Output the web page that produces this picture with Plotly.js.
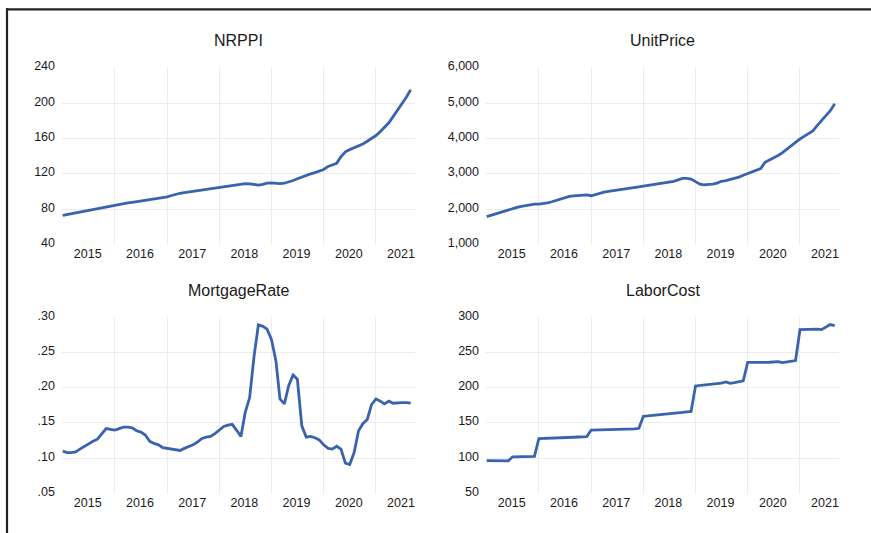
<!DOCTYPE html>
<html>
<head>
<meta charset="utf-8">
<script src="https://cdn.plot.ly/plotly-3.0.1.min.js"></script>
<style>
  html, body { margin: 0; padding: 0; background: #ffffff; }
  #chart { width: 871px; height: 533px; }
</style>
</head>
<body>
<div id="chart"></div>
<script>
// Monthly observations, January 2015 through September 2021
const startYear = 2015;
const nObs = 81;

const nrppi = [
  73.0, 74.0, 75.0, 76.0, 77.0, 77.9, 78.8, 79.6, 80.4, 81.2, 82.3, 83.4,
  84.5, 85.4, 86.2, 87.0, 87.8, 88.6, 89.4, 90.1, 90.8, 91.5, 92.2, 93.0,
  94.0, 95.5, 97.0, 98.0, 98.8, 99.5, 100.2, 101.0, 101.8, 102.6, 103.3, 103.8,
  104.5, 105.3, 106.2, 107.0, 107.8, 108.6, 109.0, 108.6, 107.8, 107.3, 108.0, 109.5,
  109.8, 109.2, 109.0, 109.4, 110.5, 112.5, 114.5, 116.5, 118.5, 120.0, 121.5, 123.0,
  125.0, 128.5, 130.5, 132.0, 139.5, 145.0, 147.5, 149.5, 151.5, 154.0, 157.0, 160.0,
  163.5, 168.0, 172.5, 178.0, 185.0, 192.0, 199.0, 207.0, 215.5
];

const unitPrice = [
  1790, 1830, 1870, 1910, 1950, 1985, 2020, 2050, 2080, 2105, 2125, 2140,
  2145, 2155, 2175, 2210, 2245, 2280, 2325, 2360, 2375, 2385, 2395, 2405,
  2380, 2420, 2450, 2480, 2505, 2520, 2540, 2560, 2580, 2595, 2610, 2630,
  2650, 2670, 2690, 2710, 2725, 2740, 2760, 2790, 2830, 2870, 2870, 2855,
  2780, 2710, 2690, 2690, 2710, 2740, 2790, 2810, 2840, 2870, 2910, 2960,
  3010, 3060, 3110, 3150, 3330, 3390, 3440, 3520, 3600, 3700, 3800, 3900,
  3990, 4070, 4150, 4220, 4370, 4510, 4620, 4790, 4990
];

const mortgageRate = [
  0.110, 0.108, 0.108, 0.109, 0.113, 0.117, 0.120, 0.124, 0.127, 0.135, 0.142, 0.141,
  0.140, 0.142, 0.144, 0.144, 0.143, 0.139, 0.137, 0.133, 0.124, 0.121, 0.119, 0.115,
  0.114, 0.114, 0.113, 0.111, 0.114, 0.116, 0.119, 0.123, 0.128, 0.130, 0.131, 0.135,
  0.140, 0.145, 0.147, 0.148, 0.140, 0.131, 0.165, 0.186, 0.245, 0.289, 0.287, 0.283,
  0.268, 0.238, 0.184, 0.177, 0.203, 0.218, 0.212, 0.146, 0.130, 0.131, 0.129, 0.126,
  0.119, 0.114, 0.113, 0.117, 0.113, 0.093, 0.091, 0.108, 0.139, 0.149, 0.155, 0.176,
  0.184, 0.181, 0.177, 0.181, 0.178, 0.179, 0.179, 0.179, 0.178
];

const laborCost = [
  96.5, 96.6, 96.8, 96.7, 96.6, 96.4, 102.0, 102.3, 102.3, 102.4, 102.5, 102.6,
  128.0, 128.1, 128.2, 128.3, 128.5, 128.7, 129.0, 129.4, 129.8, 130.1, 130.4, 130.7,
  140.0, 140.1, 140.2, 140.2, 140.1, 140.3, 140.5, 140.8, 141.1, 141.4, 141.7, 142.5,
  159.5, 160.0, 160.5, 161.0, 161.5, 162.0, 162.8, 163.5, 164.2, 165.0, 165.8, 166.4,
  202.5, 203.2, 203.8, 204.4, 205.1, 205.8, 206.6, 208.3, 206.2, 207.2, 208.4, 209.8,
  236.0, 235.8, 235.6, 235.7, 235.9, 236.1, 236.5, 237.1, 235.6, 236.5, 237.5, 238.5,
  282.3, 282.6, 283.0, 283.4, 283.2, 282.4, 285.5, 289.5, 288.2
];

// Year labels sit mid-year; gridlines mark the start of each year
const yearLabels = ['2015', '2016', '2017', '2018', '2019', '2020', '2021'];
const gridYears = [2016, 2017, 2018, 2019, 2020, 2021];

// Value-axis ticks
const nrppiTicks = [40, 80, 120, 160, 200, 240];
const unitPriceTicks = [1000, 2000, 3000, 4000, 5000, 6000];
const mortgageTicks = [0.05, 0.10, 0.15, 0.20, 0.25, 0.30];
const mortgageTickText = ['.05', '.10', '.15', '.20', '.25', '.30'];
const laborTicks = [50, 100, 150, 200, 250, 300];

const titles = ['NRPPI', 'UnitPrice', 'MortgageRate', 'LaborCost'];

// Build month dates
const pad = n => (n < 10 ? '0' + n : '' + n);
const months = [];
for (let i = 0; i < nObs; i++) {
  const y = startYear + Math.floor(i / 12);
  const m = (i % 12) + 1;
  months.push(y + '-' + pad(m) + '-01');
}
const labelDates = yearLabels.map(y => y + '-06-25');
const gridDates = gridYears.map(y => y + '-01-01');

const W = 871, H = 533;
const FONT = 'Liberation Sans, Arial, Helvetica, sans-serif';
const LINE = '#3a63ad';
const GRID = '#ececec';
const TXT = '#1a1a1a';

// Subplot boxes in pixels: [left, right] and [top, bottom]
const cols = [[62, 415], [486, 839]];
const rows = [[68.1, 244.4], [317.2, 493.5]];
const xd = c => [cols[c][0] / W, cols[c][1] / W];
const yd = r => [1 - rows[r][1] / H, 1 - rows[r][0] / H];

const xRange = ['2014-12-27', '2021-10-01'];

function xAxis(c, r) {
  const idx = r * 2 + c + 1;
  return {
    domain: xd(c),
    anchor: 'y' + (idx === 1 ? '' : idx),
    type: 'date',
    range: xRange,
    tickmode: 'array',
    tickvals: labelDates,
    ticktext: yearLabels,
    showgrid: false,
    zeroline: false,
    showline: false,
    ticks: '',
    tickfont: { family: FONT, size: 12.5, color: TXT },
    minor: {
      tickmode: 'array',
      tickvals: gridDates,
      showgrid: true,
      gridcolor: GRID,
      gridwidth: 1,
      ticks: ''
    },
    fixedrange: true
  };
}

function yAxis(c, r, range, tickvals, ticktext, fmt) {
  const idx = r * 2 + c + 1;
  const ax = {
    domain: yd(r),
    anchor: 'x' + (idx === 1 ? '' : idx),
    range: range,
    tickmode: 'array',
    tickvals: tickvals,
    showgrid: true,
    gridcolor: GRID,
    gridwidth: 1,
    zeroline: false,
    showline: false,
    ticks: '',
    ticklabelstandoff: 6,
    ticklabelshift: -2,
    tickfont: { family: FONT, size: 12.5, color: TXT },
    fixedrange: true
  };
  if (ticktext) ax.ticktext = ticktext;
  if (fmt) ax.tickformat = fmt;
  return ax;
}

const series = [nrppi, unitPrice, mortgageRate, laborCost];
const traces = series.map((vals, i) => ({
  x: months,
  y: vals,
  xaxis: 'x' + (i === 0 ? '' : i + 1),
  yaxis: 'y' + (i === 0 ? '' : i + 1),
  type: 'scatter',
  mode: 'lines',
  line: { color: LINE, width: 2.8 },
  hoverinfo: 'skip'
}));

const titleY = [41, 290];
const annotations = titles.map((t, i) => {
  const c = i % 2, r = Math.floor(i / 2);
  return {
    xref: 'paper', yref: 'paper',
    x: (cols[c][0] + cols[c][1]) / 2 / W,
    y: 1 - titleY[r] / H,
    xanchor: 'center', yanchor: 'middle',
    text: t,
    showarrow: false,
    font: { family: FONT, size: 16, color: TXT }
  };
});

// Frame lines along the top and left edges
const shapes = [
  { type: 'line', xref: 'paper', yref: 'paper',
    x0: 6 / W, x1: 1, y0: 1 - 9.3 / H, y1: 1 - 9.3 / H,
    line: { color: '#222222', width: 2.2 } },
  { type: 'line', xref: 'paper', yref: 'paper',
    x0: 7 / W, x1: 7 / W, y0: 1 - 8.3 / H, y1: 0,
    line: { color: '#222222', width: 2.2 } }
];

const layout = {
  width: W,
  height: H,
  margin: { l: 0, r: 0, t: 0, b: 0, pad: 0 },
  paper_bgcolor: '#ffffff',
  plot_bgcolor: '#ffffff',
  showlegend: false,
  font: { family: FONT, color: TXT },
  xaxis: xAxis(0, 0),
  xaxis2: xAxis(1, 0),
  xaxis3: xAxis(0, 1),
  xaxis4: xAxis(1, 1),
  yaxis: yAxis(0, 0, [40, 240], nrppiTicks),
  yaxis2: yAxis(1, 0, [1000, 6000], unitPriceTicks, null, ',d'),
  yaxis3: yAxis(0, 1, [0.05, 0.30], mortgageTicks, mortgageTickText),
  yaxis4: yAxis(1, 1, [50, 300], laborTicks),
  annotations: annotations,
  shapes: shapes
};

Plotly.newPlot('chart', traces, layout, { displayModeBar: false, staticPlot: true });
</script>
</body>
</html>
